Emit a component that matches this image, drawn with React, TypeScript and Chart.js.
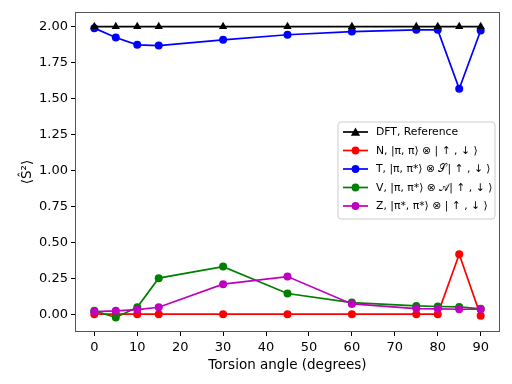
import React, { useEffect, useRef } from "react";
import { Chart, registerables } from "chart.js";

Chart.register(...registerables);

const angles = [0, 5, 10, 15, 30, 45, 60, 75, 80, 85, 90];
const dftValues = [2.0, 2.0, 2.0, 2.0, 2.0, 2.0, 2.0, 2.0, 2.0, 2.0, 2.0];
const nValues = [0.003, 0.003, 0.003, 0.003, 0.003, 0.003, 0.003, 0.003, 0.003, 0.419, -0.009];
const tValues = [1.989, 1.924, 1.873, 1.868, 1.908, 1.943, 1.965, 1.977, 1.977, 1.568, 1.972];
const vValues = [0.026, -0.02, 0.051, 0.253, 0.333, 0.146, 0.083, 0.06, 0.056, 0.053, 0.04];
const zValues = [0.021, 0.026, 0.035, 0.051, 0.211, 0.264, 0.074, 0.042, 0.04, 0.037, 0.037];

const seriesLabels = [
  "DFT, Reference",
  "N, |π, π⟩ ⊗ | ↑ , ↓ ⟩",
  "T, |π, π*⟩ ⊗ 𝒮| ↑ , ↓ ⟩",
  "V, |π, π*⟩ ⊗ 𝒜| ↑ , ↓ ⟩",
  "Z, |π*, π*⟩ ⊗ | ↑ , ↓ ⟩",
];
const seriesColors = ["#000000", "#ff0000", "#0000ff", "#008000", "#bf00bf"];
const seriesValues = [dftValues, nValues, tValues, vValues, zValues];
const seriesMarkers = ["triangle", "circle", "circle", "circle", "circle"];
const drawOrder = [0, 4, 3, 2, 1];

const xTicks = [0, 10, 20, 30, 40, 50, 60, 70, 80, 90];
const yTicks = [0, 0.25, 0.5, 0.75, 1.0, 1.25, 1.5, 1.75, 2.0];

const FONT = "'DejaVu Sans', sans-serif";

const framePlugin = {
  id: "frame",
  afterDatasetsDraw(chart: any) {
    const { ctx, chartArea } = chart;
    ctx.save();
    ctx.strokeStyle = "#555555";
    ctx.lineWidth = 1;
    ctx.strokeRect(
      Math.round(chartArea.left) + 0.5,
      Math.round(chartArea.top) + 0.5,
      Math.round(chartArea.right - chartArea.left) - 1,
      Math.round(chartArea.bottom - chartArea.top) - 1
    );
    ctx.restore();
  },
};

const legendPlugin = {
  id: "customLegend",
  afterDraw(chart: any) {
    const { ctx } = chart;
    const x0 = 338, y0 = 122, w = 157, h = 97, r = 3;
    ctx.save();
    ctx.beginPath();
    ctx.moveTo(x0 + r, y0);
    ctx.lineTo(x0 + w - r, y0);
    ctx.quadraticCurveTo(x0 + w, y0, x0 + w, y0 + r);
    ctx.lineTo(x0 + w, y0 + h - r);
    ctx.quadraticCurveTo(x0 + w, y0 + h, x0 + w - r, y0 + h);
    ctx.lineTo(x0 + r, y0 + h);
    ctx.quadraticCurveTo(x0, y0 + h, x0, y0 + h - r);
    ctx.lineTo(x0, y0 + r);
    ctx.quadraticCurveTo(x0, y0, x0 + r, y0);
    ctx.closePath();
    ctx.fillStyle = "rgba(255,255,255,0.8)";
    ctx.fill();
    ctx.strokeStyle = "#cccccc";
    ctx.lineWidth = 1;
    ctx.stroke();

    chart.data.datasets.forEach((ds: any, i: number) => {
      const cy = 132 + i * 18.5;
      ctx.strokeStyle = ds.borderColor;
      ctx.lineWidth = 1.7;
      ctx.beginPath();
      ctx.moveTo(343, cy);
      ctx.lineTo(368, cy);
      ctx.stroke();
      ctx.fillStyle = ds.borderColor;
      ctx.beginPath();
      if (ds.pointStyle === "triangle") {
        const s = 4.6;
        ctx.moveTo(355.5, cy - s);
        ctx.lineTo(355.5 + s, cy + s * 0.8);
        ctx.lineTo(355.5 - s, cy + s * 0.8);
        ctx.closePath();
      } else {
        ctx.arc(355.5, cy, 3.9, 0, Math.PI * 2);
      }
      ctx.fill();
      ctx.fillStyle = "#000000";
      ctx.font = `10.8px ${FONT}`;
      ctx.textBaseline = "middle";
      ctx.textAlign = "left";
      ctx.fillText(ds.label, 376, cy + 0.5);
    });
    ctx.restore();
  },
};

export default function App() {
  const canvasRef = useRef<HTMLCanvasElement | null>(null);

  useEffect(() => {
    if (!canvasRef.current) return;
    const datasets = seriesLabels.map((label, i) => ({
      label,
      data: angles.map((a, j) => ({ x: a, y: seriesValues[i][j] })),
      borderColor: seriesColors[i],
      backgroundColor: seriesColors[i],
      pointBackgroundColor: seriesColors[i],
      pointBorderColor: seriesColors[i],
      pointStyle: seriesMarkers[i],
      pointRadius: seriesMarkers[i] === "triangle" ? 4.8 : 4,
      pointBorderWidth: 0,
      borderWidth: 1.7,
      tension: 0,
      fill: false,
      order: drawOrder[i],
    }));

    const chart = new Chart(canvasRef.current, {
      type: "line",
      data: { datasets },
      options: {
        animation: false,
        responsive: false,
        devicePixelRatio: 1,
        layout: { padding: { top: 12, right: 12, left: 0, bottom: 0 } },
        plugins: {
          legend: { display: false },
          tooltip: { enabled: false },
        },
        scales: {
          x: {
            type: "linear",
            min: -4.5,
            max: 94.5,
            afterBuildTicks: (scale: any) => {
              scale.ticks = xTicks.map((v) => ({ value: v }));
            },
            afterFit: (scale: any) => {
              scale.height = 52;
            },
            grid: {
              drawOnChartArea: false,
              drawTicks: true,
              tickLength: 4,
              color: "#000000",
              tickColor: "#000000",
            },
            border: { display: false },
            ticks: {
              color: "#000000",
              font: { family: FONT, size: 13 },
              padding: 4,
              maxRotation: 0,
              autoSkip: false,
              callback: (v: any) => String(v),
            },
            title: {
              display: true,
              text: "Torsion angle (degrees)",
              color: "#000000",
              font: { family: FONT, size: 13.5 },
              padding: { top: 0, bottom: 10 },
            },
          },
          y: {
            type: "linear",
            min: -0.121,
            max: 2.101,
            afterBuildTicks: (scale: any) => {
              scale.ticks = yTicks.map((v) => ({ value: v }));
            },
            afterFit: (scale: any) => {
              scale.width = 75;
            },
            grid: {
              drawOnChartArea: false,
              drawTicks: true,
              tickLength: 4,
              color: "#000000",
              tickColor: "#000000",
            },
            border: { display: false },
            ticks: {
              color: "#000000",
              font: { family: FONT, size: 13 },
              padding: 3,
              autoSkip: false,
              callback: (v: any) => Number(v).toFixed(2),
            },
            title: {
              display: true,
              text: "⟨Ŝ²⟩",
              color: "#000000",
              font: { family: FONT, size: 13.5 },
              padding: { top: 19, bottom: 0 },
            },
          },
        },
      },
      plugins: [framePlugin, legendPlugin],
    } as any);

    return () => chart.destroy();
  }, []);

  return (
    <div style={{ position: "absolute", left: 0, top: 0, width: 512, height: 384, background: "#ffffff" }}>
      <canvas ref={canvasRef} width={512} height={384} style={{ width: 512, height: 384 }} />
    </div>
  );
}
